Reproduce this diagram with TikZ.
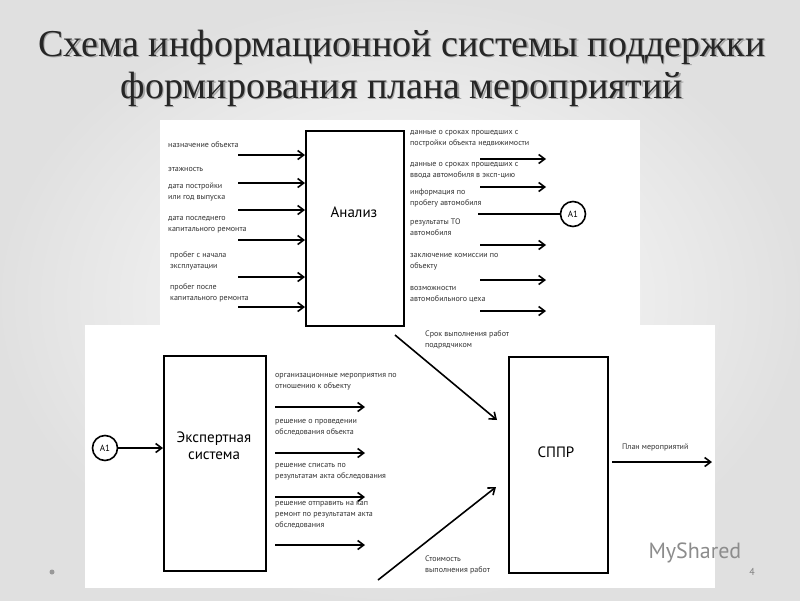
\documentclass[tikz,border=0pt]{standalone}
\usepackage{fontspec}
\setmainfont{Liberation Serif}
\newfontfamily\lbl{PT Sans}
\usetikzlibrary{arrows.meta}
\begin{document}
\begin{tikzpicture}[x=1pt,y=-1pt,
  blk/.style={draw,line width=1.6pt,anchor=north west,inner sep=0},
  arr/.style={line width=1.6pt,-{Straight Barb[length=6pt,width=9pt]}},
  lab/.style={font=\lbl\fontsize{8}{11}\selectfont,anchor=north west,align=left,inner sep=0,text=black!80},
  big/.style={font=\lbl\fontsize{15}{17}\selectfont,align=center},
  circ/.style={draw,circle,line width=1.6pt,minimum size=25pt,inner sep=0,font=\lbl\fontsize{9}{10}\selectfont}]
\useasboundingbox (0,0) rectangle (800,600);
\shade[inner color=white,outer color=black!12] (0,0) rectangle (800,600);
\fill[white] (160,120) rectangle (640,325);
\fill[white] (85,325) rectangle (715,588);
% title
\foreach \dx/\c in {1.5/black!35,0/black!85}{
\node[font=\fontsize{38}{42}\selectfont,text=\c,align=center] (t\dx) at (402+\dx,68+\dx) {Схема информационной системы поддержки\\формирования плана мероприятий};}
% Analysis
\node[blk,minimum width=98pt,minimum height=195pt] (an) at (305,130) {};
\node[big] (ant) at (354,212) {Анализ};
\foreach \y/\n in {155/a,183/b,210/c,240/d,277/e,307/f}{
  \coordinate (s\n) at (238,\y); \coordinate (e\n) at (an.west |- 0,\y);
  \draw[arr] (s\n) -- (e\n);}
\node[lab] (l1) at (168,141) {назначение объекта};
\node[lab] (l2) at (168,167) {этажность};
\node[lab] (l3) at (168,183) {дата постройки\\или год выпуска};
\node[lab] (l4) at (168,216) {дата последнего\\капитального ремонта};
\node[lab] (l5) at (170,251) {пробег с начала\\эксплуатации};
\node[lab] (l6) at (170,283) {пробег после\\капитального ремонта};
\foreach \y/\n in {159/g,187/h,245/i,280/j,311/k}{
  \coordinate (s\n) at (480,\y); \coordinate (e\n) at (546,\y);
  \draw[arr] (s\n) -- (e\n);}
\node[circ] (a1r) at (573,214) {A1};
\coordinate (sa) at (478,214);
\draw[line width=1.6pt] (sa) -- (a1r.west);
\node[lab] (r1) at (410,130) {данные о сроках прошедших с\\постройки объекта недвижимости};
\node[lab] (r2) at (410,162) {данные о сроках прошедших с\\ввода автомобиля в эксп-цию};
\node[lab] (r3) at (410,189) {информация по\\пробегу автомобиля};
\node[lab] (r4) at (410,219) {результаты ТО\\автомобиля};
\node[lab] (r5) at (410,253) {заключение комиссии по\\объекту};
\node[lab] (r6) at (410,286) {возможности\\автомобильного цеха};
% Expert
\node[blk,minimum width=102pt,minimum height=215pt] (ex) at (163,355) {};
\node[big] (ext) at (214,446) {Экспертная\\система};
\node[circ] (a1l) at (105,448) {A1};
\draw[arr] (a1l.east) -- (ex.west |- a1l);
\foreach \y/\n in {407/m,453/n,497/o,545/p}{
  \coordinate (s\n) at (275,\y); \coordinate (e\n) at (365,\y);
  \draw[arr] (s\n) -- (e\n);}
\node[lab] (x1) at (275,373) {организационные мероприятия по\\отношению к объекту};
\node[lab] (x2) at (275,419) {решение о проведении\\обследования объекта};
\node[lab] (x3) at (275,463) {решение списать по\\результатам акта обследования};
\node[lab] (x4) at (275,501) {решение отправить на кап\\ремонт по результатам акта\\обследования};
% SPPR
\node[blk,minimum width=99pt,minimum height=216pt] (sp) at (508,356) {};
\node[big] (spt) at (556,452) {СППР};
\coordinate (so) at (612,462); \coordinate (eo) at (712,462);
\draw[arr] (so) -- (eo);
\node[lab] (po) at (622,444) {План мероприятий};
\coordinate (d1) at (395,335); \coordinate (d1e) at (497,420);
\draw[arr] (d1) -- (d1e);
\node[lab] (dl1) at (425,330) {Срок выполнения работ\\подрядчиком};
\coordinate (d2) at (378,580); \coordinate (d2e) at (496,487);
\draw[arr] (d2) -- (d2e);
\node[lab] (dl2) at (425,556) {Стоимость\\выполнения работ};
% footer
\node[font=\lbl\fontsize{22}{24}\selectfont,text=black!45,anchor=west] (ms) at (645,553) {MyShared};
\node[font=\lbl\fontsize{10}{12}\selectfont,text=black!50] (pg) at (752,572) {4};
\fill[black!40] (52,572) circle (2.5);
\end{tikzpicture}
\end{document}
